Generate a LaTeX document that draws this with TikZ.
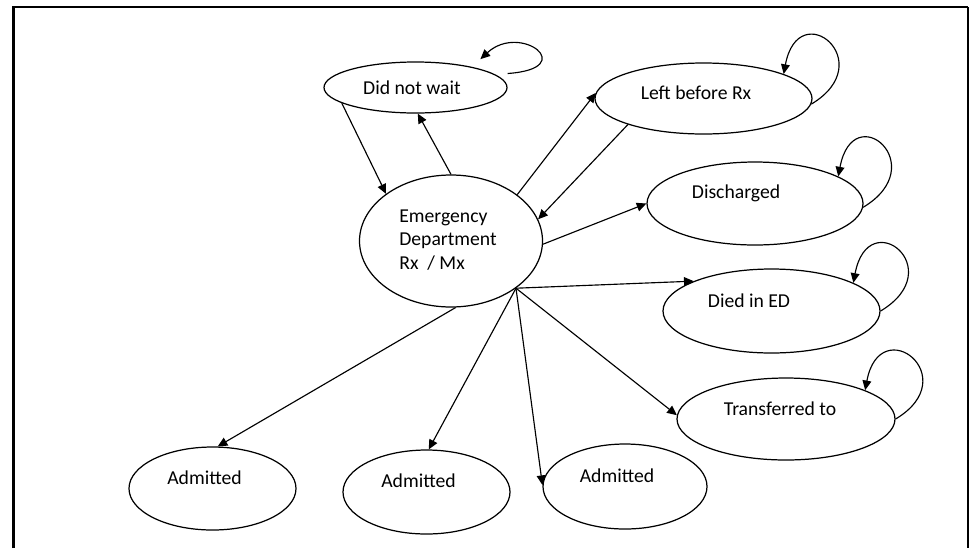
\documentclass[tikz,border=0pt]{standalone}
\usepackage{fontspec}
\setmainfont{Carlito}
\usetikzlibrary{shapes.geometric}
\usetikzlibrary{arrows.meta}

\begin{document}
\begin{tikzpicture}[x=0.02cm, y=-0.02cm]
        \tikzstyle{snode}=[ellipse, draw=black, line width=0.7pt, inner sep=0pt]
        \tikzstyle{txt}=[inner sep=0pt, font=\fontsize{11.2}{13.6}\selectfont]
        \tikzstyle{arr}=[line width=0.65pt, -{Triangle[length=5.5pt, width=5pt]}]

        \useasboundingbox (0,0) rectangle (972,548);

        % 外框 (下边开口)
        \draw[line width=1.7pt] (13.5,548) -- (13.5,7) -- (968,7);
        \draw[line width=1.1pt] (968,7) -- (968,548);

        % 状态椭圆 (尺寸单位 = 0.02cm)
        \node[snode, minimum width=183*0.02cm, minimum height=51*0.02cm] (dnw) at (415.5,87.5) {};
        \node[snode, minimum width=183*0.02cm, minimum height=132*0.02cm] (ed) at (451,241) {};
        \node[snode, minimum width=217*0.02cm, minimum height=71*0.02cm] (lbr) at (703.5,98.5) {};
        \node[snode, minimum width=216*0.02cm, minimum height=83*0.02cm] (dis) at (755,203.5) {};
        \node[snode, minimum width=217*0.02cm, minimum height=84*0.02cm] (die) at (771.5,311) {};
        \node[snode, minimum width=218*0.02cm, minimum height=82*0.02cm] (tra) at (786,419) {};
        \foreach \i/\x/\y/\w/\h in {1/212.5/488.5/167/83, 2/426.5/492/167/84, 3/625/486.5/164/85} {
            \node[snode, minimum width=\w*0.02cm, minimum height=\h*0.02cm] (adm\i) at (\x,\y) {};
            \node[txt] (adm\i-t) at (\x-8,\y-11) {Admitted};
        }

        % 文字
        \node[txt] (dnw-t) at (412,88) {Did not wait};
        \node[txt, align=left] (ed-t) at (448,240) {Emergency\\Department\\Rx\ \ / Mx};
        \node[txt] (lbr-t) at (696,93) {Left before Rx};
        \node[txt] (dis-t) at (736,193) {Discharged};
        \node[txt] (die-t) at (749,301) {Died in ED};
        \node[txt] (tra-t) at (780,409) {Transferred to};

        % 箭头
        \draw[arr] (dnw.-168) -- (ed.144);
        \draw[arr] (ed.90) -- (dnw.-85);
        \draw[arr] (ed.35) -- (lbr.177);
        \draw[arr] (lbr.-161) -- (ed.14);
        \draw[arr] (ed.-2) -- (dis.180);
        \draw[arr] (ed.-86) -- (adm1.83);
        \coordinate (hub) at (ed.-36);
        \foreach \t in {die.159, tra.178, adm3.179, adm2.87} {
            \draw[arr] (hub) -- (\t);
        }

        % 自环
        \draw[arr] ([shift={(0,-14)}]dnw.east) .. controls +(73,-5) and +(40,-37) .. ([shift={(12,-7)}]dnw.22);
        \foreach \n/\a/\b in {lbr/-3/17, dis/-2/18, die/0/19, tra/0/20} {
            \draw[arr] (\n.\a) .. controls +(70,-42) and +(15,-80) .. (\n.\b);
        }
\end{tikzpicture}
\end{document}
